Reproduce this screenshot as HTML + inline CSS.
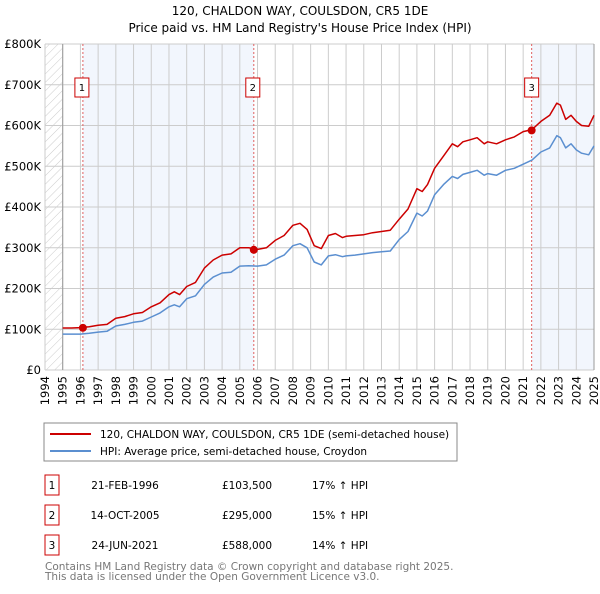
<!DOCTYPE html>
<html><head><meta charset="utf-8"><style>
body{margin:0;background:#fff;font-family:"DejaVu Sans","Liberation Sans",sans-serif;}
svg text{font-family:"DejaVu Sans","Liberation Sans",sans-serif;}
</style></head><body>
<svg id="c" width="600" height="590" xmlns="http://www.w3.org/2000/svg">
<defs><pattern id="hatch" width="6" height="6" patternUnits="userSpaceOnUse" patternTransform="rotate(45)"><line x1="0" y1="0" x2="0" y2="6" stroke="#ccc" stroke-width="1"/></pattern></defs>
<text x="300" y="15" text-anchor="middle" font-size="12">120, CHALDON WAY, COULSDON, CR5 1DE</text>
<text x="300" y="32" text-anchor="middle" font-size="12">Price paid vs. HM Land Registry's House Price Index (HPI)</text>
<g id="plot"></g>
<rect x="44" y="423" width="413" height="38" fill="#fff" stroke="#888"/>
<line x1="50" y1="434" x2="91" y2="434" stroke="#cc0000" stroke-width="2"/>
<text x="100" y="438" font-size="10.5">120, CHALDON WAY, COULSDON, CR5 1DE (semi-detached house)</text>
<line x1="50" y1="451" x2="91" y2="451" stroke="#5b8fd0" stroke-width="2"/>
<text x="100" y="455" font-size="10.5">HPI: Average price, semi-detached house, Croydon</text>
<g id="table" font-size="10.5"></g>
<text x="45" y="570" font-size="10.5" fill="#777">Contains HM Land Registry data © Crown copyright and database right 2025.</text>
<text x="45" y="580" font-size="10.5" fill="#777">This data is licensed under the Open Government Licence v3.0.</text>
</svg>
<script>
const yearTicks=[1994,1995,1996,1997,1998,1999,2000,2001,2002,2003,2004,2005,2006,2007,2008,2009,2010,2011,2012,2013,2014,2015,2016,2017,2018,2019,2020,2021,2022,2023,2024,2025];
const priceTicks=[0,100,200,300,400,500,600,700,800];
const priceLabels=["£0","£100K","£200K","£300K","£400K","£500K","£600K","£700K","£800K"];
const hpiYears=[1995,1995.5,1996,1996.5,1997,1997.5,1998,1998.5,1999,1999.5,2000,2000.5,2001,2001.3,2001.6,2002,2002.5,2003,2003.5,2004,2004.5,2005,2005.5,2006,2006.5,2007,2007.5,2008,2008.4,2008.8,2009.2,2009.6,2010,2010.4,2010.8,2011,2011.5,2012,2012.5,2013,2013.5,2014,2014.5,2015,2015.3,2015.6,2016,2016.5,2017,2017.3,2017.6,2018,2018.4,2018.8,2019,2019.5,2020,2020.5,2021,2021.5,2022,2022.5,2022.9,2023.1,2023.4,2023.7,2024,2024.3,2024.7,2025];
const hpiValues=[88,88,88,90,93,95,108,112,117,120,130,140,155,160,155,175,182,210,228,238,240,255,256,255,258,272,282,305,310,300,265,258,280,283,278,280,282,285,288,290,292,320,340,385,378,390,430,455,475,470,480,485,490,478,482,478,490,495,505,515,535,545,575,570,545,555,540,532,528,550];
const paidValues=[103,103,104,106,110,112,127,131,138,141,155,165,185,192,185,205,215,250,270,282,285,300,300,296,300,318,330,355,360,345,305,298,330,335,325,328,330,332,337,340,343,370,395,445,438,455,495,525,555,548,560,565,570,555,560,555,565,572,585,590,610,625,655,650,615,625,610,600,598,625];
const saleYears=[1996.14,2005.79,2021.48];
const salePrices=[103.5,295,588];
const saleDates=["21-FEB-1996","14-OCT-2005","24-JUN-2021"];
const saleAmounts=["£103,500","£295,000","£588,000"];
const saleDiffs=["17% ↑ HPI","15% ↑ HPI","14% ↑ HPI"];

const X0=45,X1=594,Y0=370,Y1=44;
const xs=y=>X0+(y-1994)/(2025-1994)*(X1-X0);
const ys=v=>Y0-v/800*(Y0-Y1);
const NS="http://www.w3.org/2000/svg";
const plot=document.getElementById('plot');
function mk(tag,attrs,parent){const e=document.createElementNS(NS,tag);for(const k in attrs)e.setAttribute(k,attrs[k]);(parent||plot).appendChild(e);return e;}

let r=mk('rect',{x:xs(1994),y:Y1,width:xs(1995)-xs(1994),height:Y0-Y1,fill:'url(#hatch)'});


r=mk('rect',{x:xs(saleYears[0]),y:Y1,width:xs(saleYears[1])-xs(saleYears[0]),height:Y0-Y1,fill:'#eef3fc',opacity:0.75});


r=mk('rect',{x:xs(saleYears[2]),y:Y1,width:X1-xs(saleYears[2]),height:Y0-Y1,fill:'#eef3fc',opacity:0.75});



yearTicks.forEach(y=>{
 const l=mk('line',{x1:xs(y),x2:xs(y),y1:Y1,y2:Y0,stroke:'#ccc','stroke-width':1});
 
 
 const t=mk('text',{x:0,y:0,'font-size':11.5,'text-anchor':'end',transform:`translate(${xs(y)+4},${Y0+6}) rotate(-90)`});
 t.textContent=y;
 
 
});
priceTicks.forEach((v,i)=>{
 const l=mk('line',{x1:X0,x2:X1,y1:ys(v),y2:ys(v),stroke:'#ccc','stroke-width':1});
 
 
 const t=mk('text',{x:X0-4,y:ys(v)+4,'font-size':11.5,'text-anchor':'end'});
 t.textContent=priceLabels[i];
 
 
});
let ax=mk('line',{x1:xs(1995),x2:xs(1995),y1:Y1,y2:Y0,stroke:'#999'});


ax=mk('line',{x1:X1,x2:X1,y1:Y1,y2:Y0,stroke:'#999'});



saleYears.forEach((y,i)=>{
 const l=mk('line',{x1:xs(y),x2:xs(y),y1:Y1,y2:Y0,stroke:'#e06060','stroke-width':1,'stroke-dasharray':'2,2'});
 
 
 const b=mk('rect',{x:xs(y)-7-(i==2?0:1),y:78,width:14,height:19,fill:'#fff',stroke:'#cc0000'});
 
 
 const t=mk('text',{x:xs(y)-(i==2?0:1),y:91,'font-size':10,'text-anchor':'middle'});
 t.textContent=i+1;
 
 
});

function line(vals,color,name){
 const d=hpiYears.map((y,i)=>(i?'L':'M')+xs(y).toFixed(1)+','+ys(vals[i]).toFixed(1)).join('');
 const p=mk('path',{d:d,fill:'none',stroke:color,'stroke-width':1.5,'stroke-linejoin':'round'});
 
 
}
line(hpiValues,'#5b8fd0','hpi-line');
line(paidValues,'#cc0000','price-paid-line');
saleYears.forEach((y,i)=>{
 const c=mk('circle',{cx:xs(y),cy:ys(salePrices[i]),r:4,fill:'#cc0000'});
 
 
});

const tb=document.getElementById('table');
saleDates.forEach((d,i)=>{
 const yy=482+i*30;
 const b=mk('rect',{x:45,y:yy-7,width:14,height:20,fill:'#fff',stroke:'#cc0000'},tb);
 
 
 const cells=[[52,String(i+1),'middle','badge-label'],[125,d,'middle','date'],[247,saleAmounts[i],'middle','price'],[312,saleDiffs[i],'start','hpi-diff']];
 cells.forEach(c=>{
  const t=mk('text',{x:c[0],y:yy+7,'text-anchor':c[2]},tb);
  t.textContent=c[1];
  
  
 });
});
</script>
</body></html>
